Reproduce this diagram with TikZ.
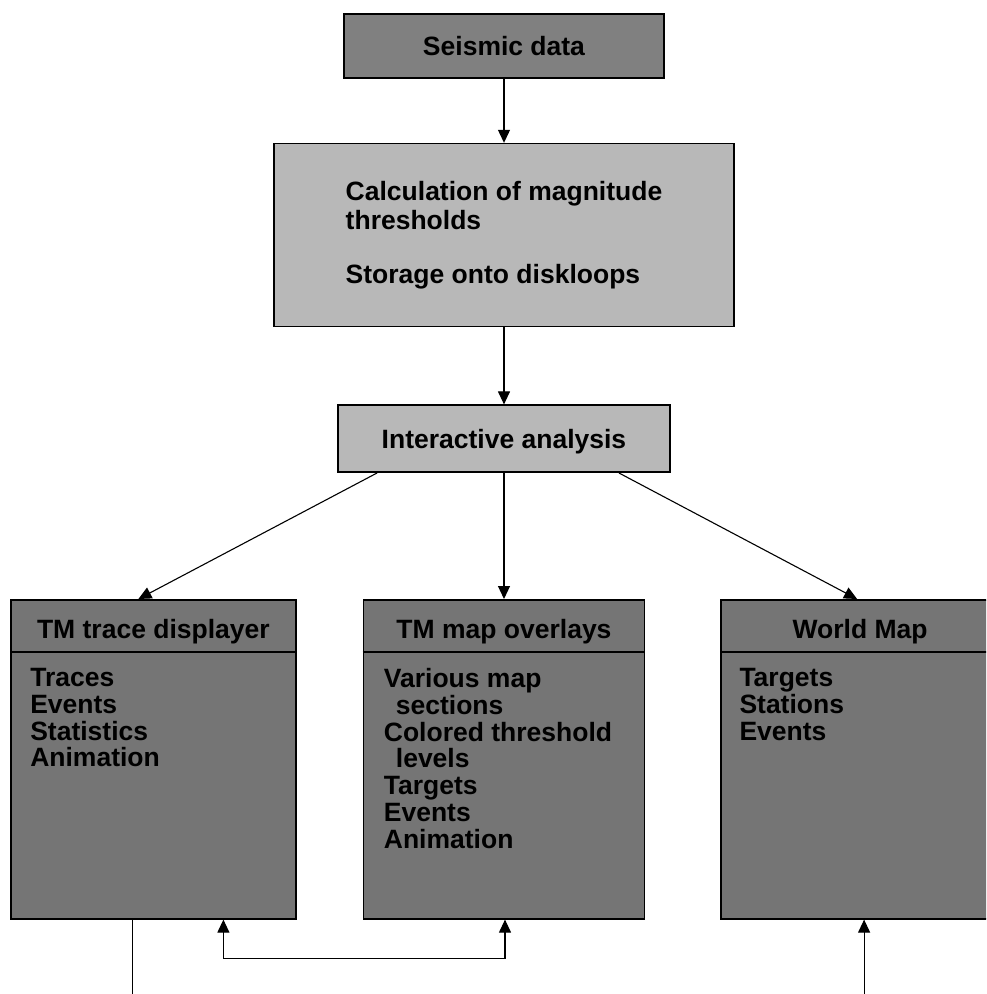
\documentclass[tikz,border=0pt]{standalone}
\usepackage{fontspec}
\setmainfont{Liberation Sans}
\usetikzlibrary{arrows.meta, positioning, calc}
\usepackage{xcolor}
\definecolor{sourcefill}{gray}{0.5}
\definecolor{procfill}{gray}{0.72}
\definecolor{mapfill}{gray}{0.46}
\tikzset{
    boxfont/.style={
        font=\fontsize{26.5}{29.5}\selectfont\bfseries
    },
    listfont/.style={
        font=\fontsize{26.5}{26.8}\selectfont\bfseries
    },
    sourcebox/.style={
        rectangle, minimum width=320pt, minimum height=64pt,
        draw=black, line width=1.6pt, fill=sourcefill, boxfont,
        text depth=0pt
    },
    procbox/.style={
        rectangle, draw=black, line width=1.6pt, fill=procfill, boxfont,
        inner sep=0pt
    },
    mapbox/.style={
        rectangle, minimum height=319pt, draw=black, line width=1.6pt,
        fill=mapfill
    },
    maphead/.style={
        listfont, inner sep=0pt, anchor=base
    },
    maplist/.style={
        listfont, align=left, inner sep=0pt, anchor=north west
    },
    divider/.style={
        line width=1.2pt, draw=black
    },
    link/.style={
        line width=1.1pt, draw=black
    },
    arrow/.style={
        -{Triangle[width=12pt,length=13pt]}, line width=1.1pt, draw=black
    },
    twoway/.style={
        {Triangle[width=12pt,length=13pt]}-{Triangle[width=12pt,length=13pt]},
        line width=1.1pt, draw=black
    }
}
\begin{document}
\begin{tikzpicture}[x=1pt, y=-1pt]

    \useasboundingbox (0,0) rectangle (986,994);
    \clip (0,0) rectangle (986,994);

    % -- Processing chain --
    \node[sourcebox] (seismic) at (504,46) {Seismic data};

    \node[procbox, minimum width=460pt, minimum height=183pt, align=left,
          below=64pt of seismic] (calc)
        {Calculation of magnitude\\thresholds\\[24pt]Storage onto diskloops};

    \node[procbox, minimum width=332pt, minimum height=67pt, text depth=0pt,
          below=77pt of calc] (inter) {Interactive analysis};

    % -- Display tools --
    \node[mapbox, minimum width=281pt, below=126pt of inter]  (overlay) {};
    \node[mapbox, minimum width=285pt, left=66pt of overlay]  (trace)   {};
    \node[mapbox, minimum width=278pt, right=75pt of overlay] (world)   {};

    \foreach \b/\t in {trace/TM trace displayer, overlay/TM map overlays, world/World Map} {
        \node[maphead] (\b-head) at ($(\b.north)+(0,39)$) {\t};
        \draw[divider] ($(\b.north west)+(0,53)$) -- ($(\b.north east)+(0,53)$);
    }

    \node[maplist] (trace-list) at ($(trace.north west)+(20,69)$)
        {Traces\\Events\\Statistics\\Animation};
    \node[maplist] (overlay-list) at ($(overlay.north west)+(21,69)$)
        {Various map\\\hspace*{12pt}sections\\Colored threshold\\\hspace*{12pt}levels\\Targets\\Events\\Animation};
    \node[maplist] (world-list) at ($(world.north west)+(19,69)$)
        {Targets\\Stations\\Events};

    % -- Arrows --
    \draw[arrow] (seismic) -- (calc);
    \draw[arrow] (calc)    -- (inter);
    \draw[arrow] ($(inter.south)+(-127,0)$) -- ($(trace.north)+(-15,0)$);
    \draw[arrow] (inter)   -- (overlay);
    \draw[arrow] ($(inter.south)+(115,0)$)  -- ($(world.north)+(-3,0)$);

    % -- Links below the tools --
    \coordinate (trace-out) at ($(trace.south)+(-21,90)$);
    \coordinate (loop-l)    at ($(trace.south)+(70,39)$);
    \coordinate (loop-r)    at ($(overlay.south)+(1,39)$);
    \coordinate (world-in)  at ($(world.south)+(4,90)$);

    \draw[link]   (trace.south -| trace-out) -- (trace-out);
    \draw[twoway] (trace.south -| loop-l) -- (loop-l) -- (loop-r) -- (overlay.south -| loop-r);
    \draw[arrow]  (world-in) -- (world.south -| world-in);

\end{tikzpicture}
\end{document}
